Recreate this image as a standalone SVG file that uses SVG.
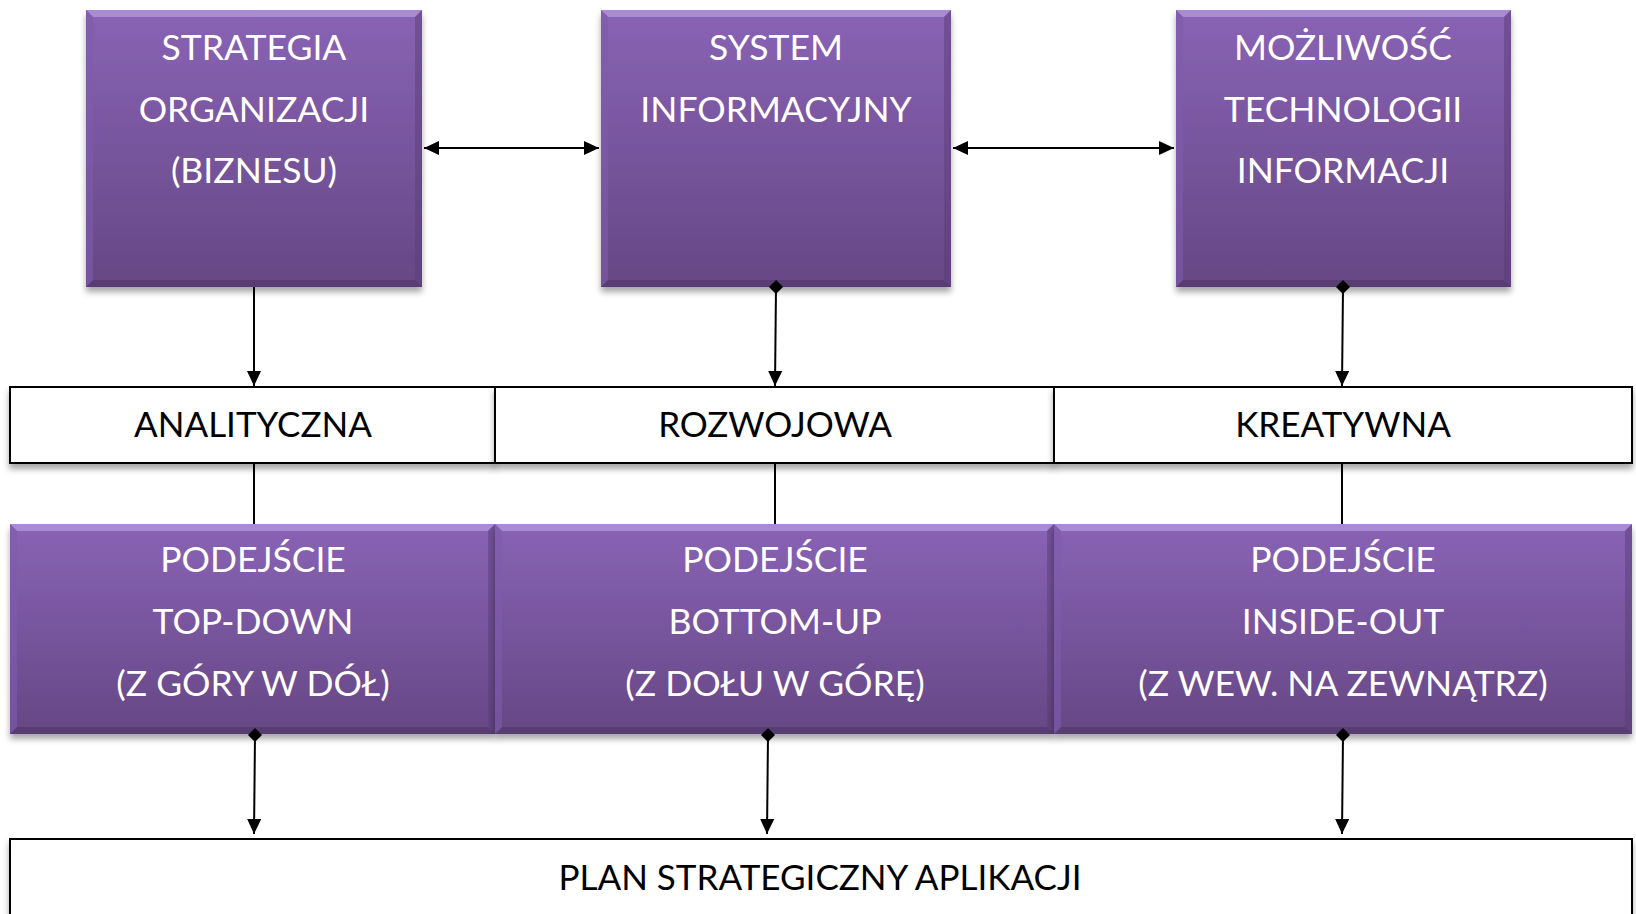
<svg xmlns="http://www.w3.org/2000/svg" width="1636" height="914" viewBox="0 0 1636 914">
<defs>
<linearGradient id="pg" x1="0" y1="0" x2="0" y2="1">
<stop offset="0" stop-color="#8963b5"/>
<stop offset="1" stop-color="#664785"/>
</linearGradient>
<filter id="sh" x="-5%" y="-5%" width="110%" height="120%">
<feDropShadow dx="0" dy="5" stdDeviation="3" flood-color="#000" flood-opacity="0.35"/>
</filter>
<marker id="ar" markerUnits="userSpaceOnUse" markerWidth="16" markerHeight="14" refX="15" refY="7" orient="auto-start-reverse">
<path d="M0,0 L15,7 L0,14 z" fill="#000"/>
</marker>
<marker id="dm" markerUnits="userSpaceOnUse" markerWidth="14" markerHeight="14" refX="7" refY="7" orient="auto">
<path d="M0,7 L7,0 L14,7 L7,14 z" fill="#000"/>
</marker>
<style>
.pb{fill:url(#pg);filter:url(#sh)}
.bt{fill:#b195dc;opacity:0.8}
.bb{fill:#4f3568;opacity:0.6}
.bl{fill:#7e5cab;opacity:0.6}
.br{fill:#5a3d78;opacity:0.5}
.wb{fill:#fff;stroke:#000;stroke-width:2;filter:url(#sh)}
.tw{font-family:Lato,"Open Sans",sans-serif;font-size:35.5px;fill:#fff;text-anchor:middle}
.tb{font-family:Lato,"Open Sans",sans-serif;font-size:35px;fill:#000;text-anchor:middle}
.cn{stroke:#000;stroke-width:2;fill:none}
</style>
</defs>
<rect width="1636" height="914" fill="#fff"/>

<g id="strategia">
<rect class="pb" x="86" y="10" width="336" height="277"/>
<polygon class="bt" points="86,10 422,10 415,17 93,17"/>
<polygon class="bb" points="86,287 422,287 415,280 93,280"/>
<polygon class="bl" points="86,10 93,17 93,280 86,287"/>
<polygon class="br" points="422,10 415,17 415,280 422,287"/>
<text class="tw" x="254" y="60">STRATEGIA</text>
<text class="tw" x="254" y="122">ORGANIZACJI</text>
<text class="tw" x="254" y="183">(BIZNESU)</text>
</g>

<g id="system">
<rect class="pb" x="601" y="10" width="350" height="277"/>
<polygon class="bt" points="601,10 951,10 944,17 608,17"/>
<polygon class="bb" points="601,287 951,287 944,280 608,280"/>
<polygon class="bl" points="601,10 608,17 608,280 601,287"/>
<polygon class="br" points="951,10 944,17 944,280 951,287"/>
<text class="tw" x="776" y="60">SYSTEM</text>
<text class="tw" x="776" y="122">INFORMACYJNY</text>
</g>

<g id="technologia">
<rect class="pb" x="1176" y="10" width="335" height="277"/>
<polygon class="bt" points="1176,10 1511,10 1504,17 1183,17"/>
<polygon class="bb" points="1176,287 1511,287 1504,280 1183,280"/>
<polygon class="bl" points="1176,10 1183,17 1183,280 1176,287"/>
<polygon class="br" points="1511,10 1504,17 1504,280 1511,287"/>
<text class="tw" x="1343" y="60">MOŻLIWOŚĆ</text>
<text class="tw" x="1343" y="122">TECHNOLOGII</text>
<text class="tw" x="1343" y="183">INFORMACJI</text>
</g>

<g id="analityczna">
<rect class="wb" x="10" y="387" width="485" height="76"/>
<text class="tb" x="253" y="437">ANALITYCZNA</text>
</g>
<g id="rozwojowa">
<rect class="wb" x="495" y="387" width="559" height="76"/>
<text class="tb" x="775" y="437">ROZWOJOWA</text>
</g>
<g id="kreatywna">
<rect class="wb" x="1054" y="387" width="578" height="76"/>
<text class="tb" x="1343" y="437">KREATYWNA</text>
</g>

<g id="topdown">
<rect class="pb" x="10" y="524" width="485" height="210"/>
<polygon class="bt" points="10,524 495,524 488,531 17,531"/>
<polygon class="bb" points="10,734 495,734 488,727 17,727"/>
<polygon class="bl" points="10,524 17,531 17,727 10,734"/>
<polygon class="br" points="495,524 488,531 488,727 495,734"/>
<text class="tw" x="253" y="572">PODEJŚCIE</text>
<text class="tw" x="253" y="634">TOP-DOWN</text>
<text class="tw" x="253" y="696">(Z GÓRY W DÓŁ)</text>
</g>
<g id="bottomup">
<rect class="pb" x="495" y="524" width="559" height="210"/>
<polygon class="bt" points="495,524 1054,524 1047,531 502,531"/>
<polygon class="bb" points="495,734 1054,734 1047,727 502,727"/>
<polygon class="bl" points="495,524 502,531 502,727 495,734"/>
<polygon class="br" points="1054,524 1047,531 1047,727 1054,734"/>
<text class="tw" x="775" y="572">PODEJŚCIE</text>
<text class="tw" x="775" y="634">BOTTOM-UP</text>
<text class="tw" x="775" y="696">(Z DOŁU W GÓRĘ)</text>
</g>
<g id="insideout">
<rect class="pb" x="1054" y="524" width="578" height="210"/>
<polygon class="bt" points="1054,524 1632,524 1625,531 1061,531"/>
<polygon class="bb" points="1054,734 1632,734 1625,727 1061,727"/>
<polygon class="bl" points="1054,524 1061,531 1061,727 1054,734"/>
<polygon class="br" points="1632,524 1625,531 1625,727 1632,734"/>
<text class="tw" x="1343" y="572">PODEJŚCIE</text>
<text class="tw" x="1343" y="634">INSIDE-OUT</text>
<text class="tw" x="1343" y="696">(Z WEW. NA ZEWNĄTRZ)</text>
</g>

<g id="plan">
<rect class="wb" x="10" y="839" width="1622" height="90"/>
<text class="tb" x="820" y="890">PLAN STRATEGICZNY APLIKACJI</text>
</g>

<g id="connectors">
<line class="cn" x1="424" y1="148" x2="599" y2="148" marker-start="url(#ar)" marker-end="url(#ar)"/>
<line class="cn" x1="953" y1="148" x2="1174" y2="148" marker-start="url(#ar)" marker-end="url(#ar)"/>
<line class="cn" x1="254" y1="287" x2="254" y2="386" marker-end="url(#ar)"/>
<line class="cn" x1="776" y1="287" x2="775" y2="386" marker-start="url(#dm)" marker-end="url(#ar)"/>
<line class="cn" x1="1343" y1="287" x2="1342" y2="386" marker-start="url(#dm)" marker-end="url(#ar)"/>
<line class="cn" x1="254" y1="464" x2="254" y2="524"/>
<line class="cn" x1="775" y1="464" x2="775" y2="524"/>
<line class="cn" x1="1342" y1="464" x2="1342" y2="524"/>
<line class="cn" x1="255" y1="735" x2="254" y2="834" marker-start="url(#dm)" marker-end="url(#ar)"/>
<line class="cn" x1="768" y1="735" x2="767" y2="834" marker-start="url(#dm)" marker-end="url(#ar)"/>
<line class="cn" x1="1343" y1="735" x2="1342" y2="834" marker-start="url(#dm)" marker-end="url(#ar)"/>
</g>
</svg>
